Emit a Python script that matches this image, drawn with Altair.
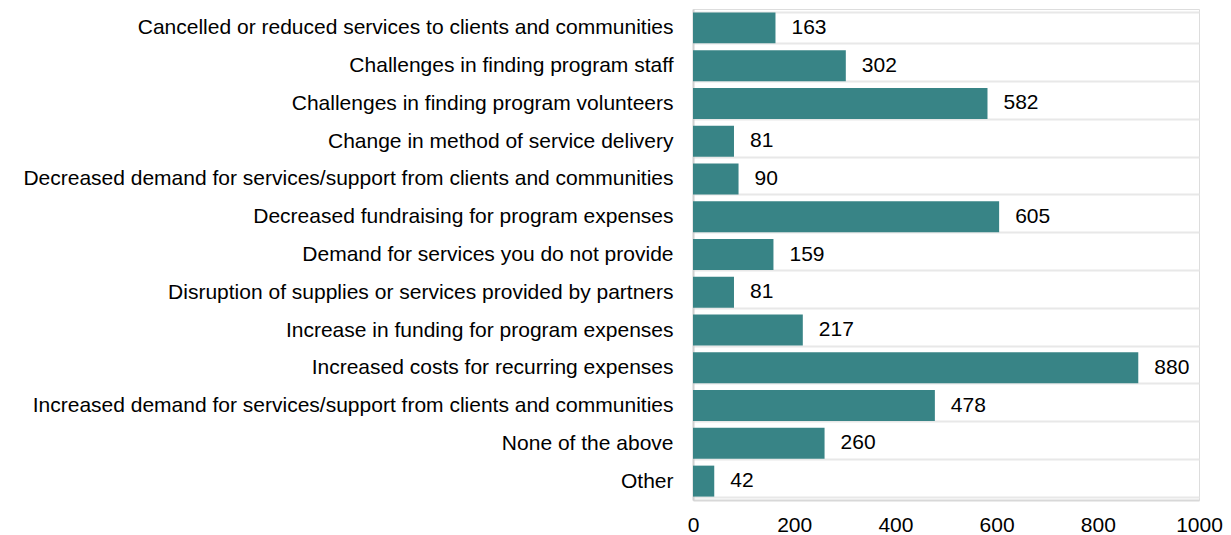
import altair as alt
import pandas as pd

categories = [
    "Cancelled or reduced services to clients and communities",
    "Challenges in finding program staff",
    "Challenges in finding program volunteers",
    "Change in method of service delivery",
    "Decreased demand for services/support from clients and communities",
    "Decreased fundraising for program expenses",
    "Demand for services you do not provide",
    "Disruption of supplies or services provided by partners",
    "Increase in funding for program expenses",
    "Increased costs for recurring expenses",
    "Increased demand for services/support from clients and communities",
    "None of the above",
    "Other",
]
values = [163, 302, 582, 81, 90, 605, 159, 81, 217, 880, 478, 260, 42]
x_ticks = [0, 200, 400, 600, 800, 1000]

df = pd.DataFrame({"category": categories, "value": values})
FONT = "Liberation Sans"
FS = 21

y = alt.Y(
    "category:N",
    sort=categories,
    title=None,
    scale=alt.Scale(paddingInner=0.18, paddingOuter=0.09),
    axis=alt.Axis(
        labelFont=FONT, labelFontSize=FS, labelColor="#000000",
        labelPadding=20, ticks=False, domain=True, domainColor="#d0d0d0",
        domainWidth=2, grid=True, gridColor="#e8e8e8", gridWidth=2,
        tickBand="extent", labelLimit=900, minExtent=685, maxExtent=685,
    ),
)
x = alt.X(
    "value:Q",
    title=None,
    scale=alt.Scale(domain=[0, 1000]),
    axis=alt.Axis(
        values=x_ticks, format="d", labelFont=FONT, labelFontSize=FS,
        labelColor="#000000", labelPadding=14, ticks=False, domain=True,
        domainColor="#d8d8d8", domainWidth=2, grid=False, labelFlush=False,
        labelOverlap=False,
    ),
)

bars = alt.Chart(df).mark_bar(color="#388486").encode(x=x, y=y)
labels = alt.Chart(df).mark_text(
    align="left", baseline="middle", dx=16, font=FONT, fontSize=FS, color="#000000"
).encode(x="value:Q", y=alt.Y("category:N", sort=categories), text="value:Q")

chart = (
    alt.layer(bars, labels)
    .properties(width=506, height=491,
                padding={"top": -10, "left": 0, "right": 0, "bottom": 0})
    .configure_view(stroke=None)
    .configure(background="white")
)
chart.save("out.html", embed_options={"renderer": "svg", "actions": False})
